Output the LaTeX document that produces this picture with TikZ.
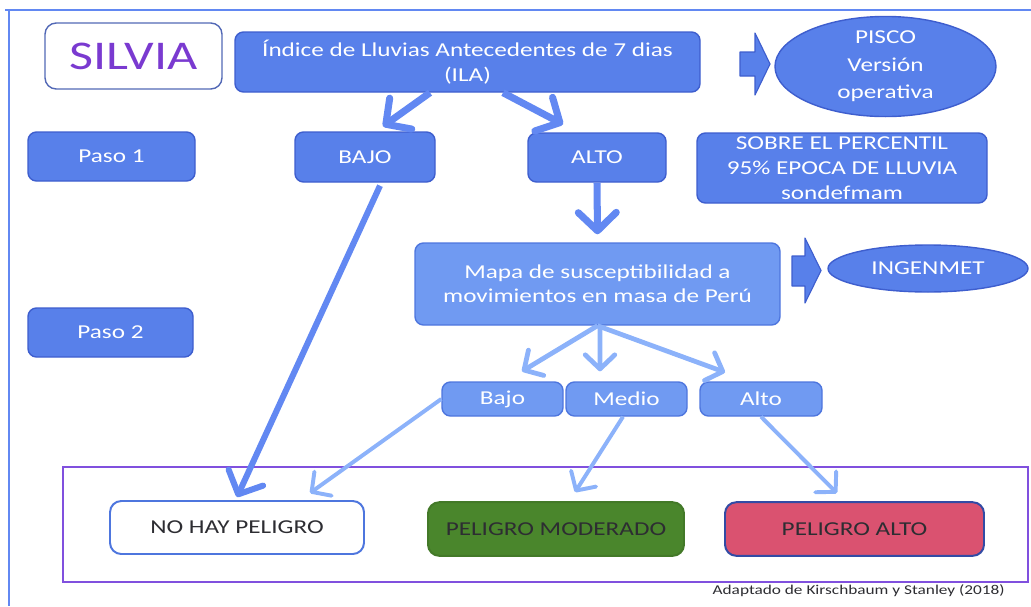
\documentclass[tikz,border=0pt]{standalone}
\usepackage{fontspec}
\setmainfont{Carlito}[FakeStretch=1.28]
\usetikzlibrary{arrows.meta,shapes.geometric}

\definecolor{fillblue}{RGB}{88,128,234}
\definecolor{edgeblue}{RGB}{62,94,206}
\definecolor{fillsoft}{RGB}{112,154,242}
\definecolor{edgesoft}{RGB}{78,118,222}
\definecolor{arrowblue}{RGB}{98,136,242}
\definecolor{arrowsoft}{RGB}{140,178,250}
\definecolor{framepurple}{RGB}{128,80,222}
\definecolor{silviapurple}{RGB}{122,58,208}
\definecolor{modgreen}{RGB}{74,134,44}
\definecolor{altopink}{RGB}{218,82,112}
\definecolor{textgray}{RGB}{45,45,50}

\tikzset{
  bluebox/.style={draw=edgeblue, fill=fillblue, line width=1pt, rounded corners=6pt,
    text=white, align=center, inner sep=0pt, font=\fontsize{14}{17.5}\selectfont},
  softbox/.style={bluebox, fill=fillsoft, draw=edgesoft},
  blueoval/.style={ellipse, draw=edgeblue, fill=fillblue, line width=1pt,
    text=white, align=center, inner sep=0pt, font=\fontsize{14}{19.5}\selectfont},
  riskbox/.style={rounded corners=8pt, line width=1.4pt, align=center, inner sep=0pt,
    text=textgray, minimum height=1.34cm, font=\fontsize{14}{17}\selectfont},
  bigarrow/.style={draw=arrowblue, line width=5pt,
    -{Straight Barb[length=13pt,width=27pt,round]}},
  softarrow/.style={draw=arrowsoft, line width=3.4pt,
    -{Straight Barb[length=10pt,width=21pt,round]}},
  blockarrow/.style={fill=fillblue, draw=edgeblue, line width=0.8pt, line join=round},
  framelines/.style={draw=arrowblue, line width=1.1pt}
}

\begin{document}
\begin{tikzpicture}
  \useasboundingbox (0,0) rectangle (25.775,-15.15);

  % Frame
  \draw[framelines] (0.125,-0.25) -- (25.775,-0.25);
  \draw[framelines] (0.225,-0.25) -- (0.225,-15.15);

  % Top row
  \node[draw=edgeblue!70!gray, line width=1pt, rounded corners=8pt, text=silviapurple,
    minimum width=4.425cm, minimum height=1.65cm, inner sep=0pt,
    font=\fontsize{29}{32}\selectfont] (silvia) at (3.3375,-1.4) {SILVIA};
  \node[bluebox, minimum width=11.625cm, minimum height=1.5cm] (ila) at (11.6875,-1.55)
    {Índice de Lluvias Antecedentes de 7 dias\\(ILA)};
  \fill[blockarrow] (18.5,-1.3) -- (18.875,-1.3) -- (18.875,-0.825) -- (19.25,-1.6)
    -- (18.875,-2.375) -- (18.875,-1.9) -- (18.5,-1.9) -- cycle;
  \node[blueoval, minimum width=5.525cm, minimum height=2.075cm] (pisco) at (22.1375,-1.6625)
    {PISCO\\Versión\\operativa};

  % Paso 1
  \node[bluebox, minimum width=4.175cm, minimum height=1.225cm] (paso1) at (2.7875,-3.9125) {Paso 1};
  \node[bluebox, minimum width=3.5cm, minimum height=1.25cm] (bajo) at (9.125,-3.925) {BAJO};
  \node[bluebox, minimum width=3.45cm, minimum height=1.225cm] (alto) at (14.925,-3.9375) {ALTO};
  \node[bluebox, minimum width=7.25cm, minimum height=1.75cm,
    font=\fontsize{14}{18}\selectfont] (sobre) at (21.05,-4.2)
    {SOBRE EL PERCENTIL\\95\% EPOCA DE LLUVIA\\sondefmam};

  % Paso 2
  \node[softbox, minimum width=9.125cm, minimum height=2.05cm,
    font=\fontsize{14}{17}\selectfont] (mapa) at (14.9375,-7.1)
    {Mapa de susceptibilidad a\\movimientos en masa de Perú};
  \fill[blockarrow] (19.8,-6.4) -- (20.125,-6.4) -- (20.125,-5.95) -- (20.525,-6.7625)
    -- (20.125,-7.575) -- (20.125,-7.15) -- (19.8,-7.15) -- cycle;
  \node[blueoval, minimum width=5cm, minimum height=1.175cm] (ingenmet) at (23.2,-6.7125) {INGENMET};
  \node[bluebox, minimum width=4.125cm, minimum height=1.225cm] (paso2) at (2.7625,-8.3125) {Paso 2};

  \node[softbox, minimum width=3.025cm, minimum height=0.85cm] (sbajo) at (12.5625,-9.975) {Bajo};
  \node[softbox, minimum width=3.025cm, minimum height=0.85cm] (smedio) at (15.6625,-9.975) {Medio};
  \node[softbox, minimum width=3.05cm, minimum height=0.85cm] (salto) at (19.025,-9.975) {Alto};

  % Results
  \draw[framepurple, line width=1.4pt] (1.575,-11.675) rectangle (25.7,-14.55);
  \node[riskbox, draw=edgesoft, fill=white, minimum width=6.35cm, minimum height=1.325cm]
    (nohay) at (5.925,-13.1875) {NO HAY PELIGRO};
  \node[riskbox, draw=modgreen!90!black, fill=modgreen, minimum width=6.4cm]
    (moderado) at (13.9,-13.225) {PELIGRO MODERADO};
  \node[riskbox, draw=edgeblue!80!black, fill=altopink, minimum width=6.475cm]
    (peligroalto) at (21.3625,-13.225) {PELIGRO ALTO};

  \node[anchor=east, text=textgray, inner sep=0pt, font=\fontsize{9.6}{11}\selectfont]
    (fuente) at (25.125,-14.775) {Adaptado de Kirschbaum y Stanley (2018)};

  % Arrows
  \draw[bigarrow] ([xshift=-0.9375cm]ila.south) -- ([xshift=0.45cm,yshift=0.125cm]bajo.north);
  \draw[bigarrow] ([xshift=0.8875cm]ila.south) -- ([xshift=-0.85cm,yshift=0.2cm]alto.north);
  \draw[bigarrow] (alto.south) -- ([yshift=0.2cm]mapa.north);
  \draw[bigarrow, line width=4.3pt] ([xshift=0.375cm,yshift=-0.075cm]bajo.south) -- ([yshift=0.075cm]nohay.north);

  \draw[softarrow] (mapa.south) -- ([xshift=0.4875cm,yshift=0.25cm]sbajo.north);
  \draw[softarrow] ([xshift=0.0625cm]mapa.south) -- ([xshift=-0.6625cm,yshift=0.25cm]smedio.north);
  \draw[softarrow] (mapa.south) -- ([xshift=-0.9cm,yshift=0.225cm]salto.north);
  \draw[softarrow, line width=2.8pt] (sbajo.west) -- ([xshift=1.825cm,yshift=0.175cm]nohay.north);
  \draw[softarrow, line width=2.8pt] ([xshift=-0.0875cm]smedio.south) -- ([xshift=0.475cm,yshift=0.225cm]moderado.north);
  \draw[softarrow, line width=2.8pt] (salto.south) -- ([xshift=-0.4375cm,yshift=0.2cm]peligroalto.north);
\end{tikzpicture}
\end{document}
